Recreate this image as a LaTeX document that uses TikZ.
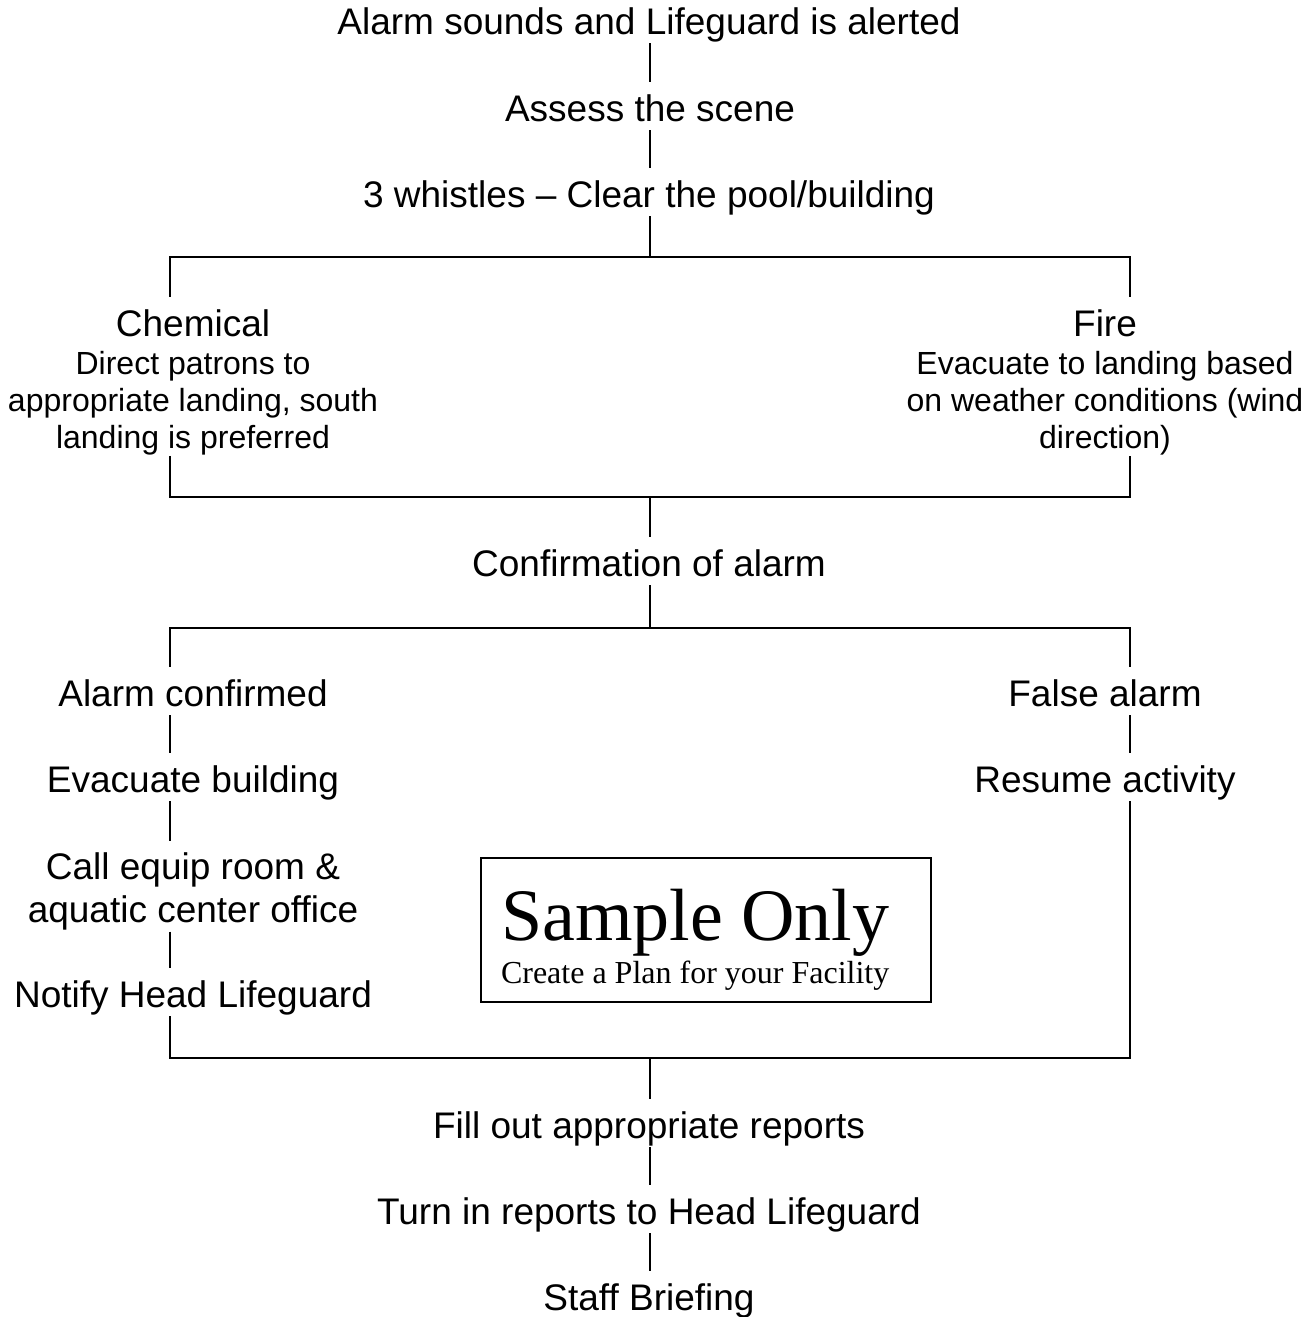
\documentclass[tikz,border=0pt]{standalone}
\usepackage{fontspec}
\setmainfont{Liberation Sans}
\newfontfamily\serifface{Liberation Serif}
\begin{document}
\begin{tikzpicture}[x=1pt,y=-1pt,
  main/.style={font=\fontsize{37}{43}\selectfont, inner sep=0pt, text depth=8pt, anchor=base},
  mainml/.style={font=\fontsize{37}{43}\selectfont, inner sep=0pt, align=center, anchor=north},
  small/.style={font=\fontsize{32}{37}\selectfont, inner sep=0pt, align=center, anchor=north},
  conn/.style={shorten >=11pt},
  every path/.style={line width=2pt}]
\useasboundingbox (0,0) rectangle (1315,1317);
\coordinate (colL) at (170,0);
\coordinate (colC) at (650,0);
\coordinate (colR) at (1130,0);
\coordinate (j1) at (650,257);
\coordinate (j2) at (650,497);
\coordinate (j3) at (650,628);
\coordinate (j4) at (650,1058);

\node[main] (n1) at (649,34) {Alarm sounds and Lifeguard is alerted};
\node[main] (n2) at (650,121) {Assess the scene};
\node[main] (n3) at (649,207) {3 whistles – Clear the pool/building};
\node[main] (chemT) at (193,336) {Chemical};
\node[small] (chemD) at (193,350) {Direct patrons to\\appropriate landing, south\\landing is preferred};
\node[main] (fireT) at (1105,336) {Fire};
\node[small] (fireD) at (1105,350) {Evacuate to landing based\\on weather conditions (wind\\direction)};
\node[main] (conf) at (649,576) {Confirmation of alarm};
\node[main] (acnf) at (193,706) {Alarm confirmed};
\node[main] (evac) at (193,792) {Evacuate building};
\node[mainml] (call) at (193,852) {Call equip room \&\\aquatic center office};
\node[main] (notify) at (193,1007) {Notify Head Lifeguard};
\node[main] (false) at (1105,706) {False alarm};
\node[main] (resume) at (1105,792) {Resume activity};
\node[main] (fill) at (649,1138) {Fill out appropriate reports};
\node[main] (turn) at (649,1224) {Turn in reports to Head Lifeguard};
\node[main] (staff) at (649,1310) {Staff Briefing};

\node[draw, line width=1.5pt, minimum width=450pt, minimum height=144pt, inner sep=0pt, anchor=north west] (box) at (480,857) {};
\node[font=\serifface\fontsize{74}{80}\selectfont, inner sep=0pt, anchor=base west] (s1) at (500,940) {Sample Only};
\node[font=\serifface\fontsize{32}{37}\selectfont, inner sep=0pt, anchor=base west] (s2) at (500,983) {Create a Plan for your Facility};

\draw[conn] (n1.south -| colC) -- (n2.north -| colC);
\draw[conn] (n2.south -| colC) -- (n3.north -| colC);
\draw (n3.south -| colC) -- (j1);
\draw[conn] (j1) -| (chemT.north -| colL);
\draw[conn] (j1) -| (fireT.north -| colR);
\draw (chemD.south -| colL) |- (j2) -| (fireD.south -| colR);
\draw[conn] (j2) -- (conf.north -| colC);
\draw (conf.south -| colC) -- (j3);
\draw[conn] (j3) -| (acnf.north -| colL);
\draw[conn] (j3) -| (false.north -| colR);
\draw[conn] (acnf.south -| colL) -- (evac.north -| colL);
\draw[conn] (evac.south -| colL) -- (call.north -| colL);
\draw[conn] (call.south -| colL) -- (notify.north -| colL);
\draw[conn] (false.south -| colR) -- (resume.north -| colR);
\draw (notify.south -| colL) |- (j4) -| (resume.south -| colR);
\draw[conn] (j4) -- (fill.north -| colC);
\draw[conn] (fill.south -| colC) -- (turn.north -| colC);
\draw[conn] (turn.south -| colC) -- (staff.north -| colC);
\end{tikzpicture}
\end{document}
